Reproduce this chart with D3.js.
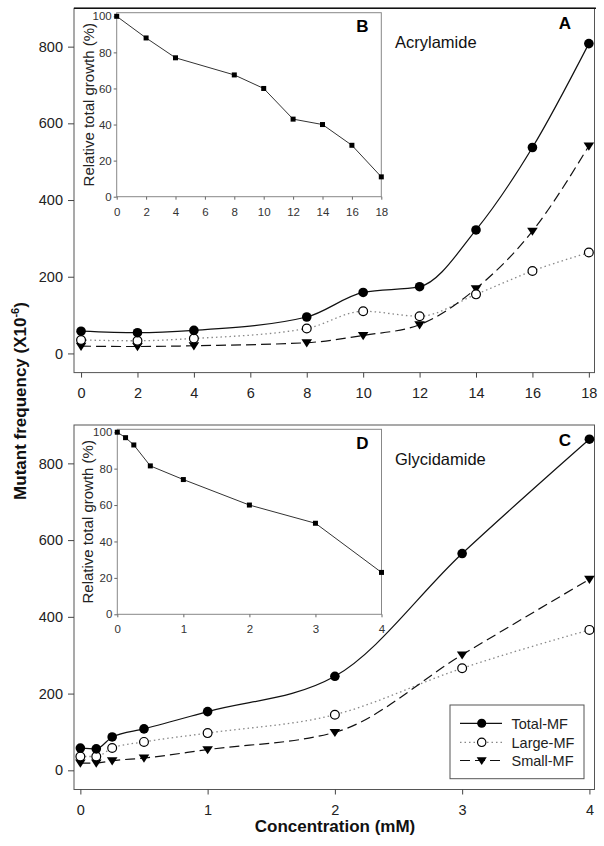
<!DOCTYPE html>
<html>
<head>
<meta charset="utf-8">
<script src="https://cdn.jsdelivr.net/npm/d3@7"></script>
<style>
  html, body { margin: 0; padding: 0; background: #fff; }
  svg { display: block; font-family: "Liberation Sans", Arial, sans-serif; }
</style>
</head>
<body>
<svg id="chart" width="604" height="846"></svg>
<script>
// ---------- Data ----------
const acrylConc   = [0, 2, 4, 8, 10, 12, 14, 16, 18];
const acrylTotal  = [58, 54, 60, 95, 159, 174, 322, 537, 808];
const acrylLarge  = [35, 33, 39, 65, 110, 97, 154, 215, 263];
const acrylSmall  = [19, 18, 20, 28, 47, 75, 169, 319, 541];
const acrylGrowth = [100, 88, 77, 67.5, 60, 43, 40, 28.5, 11];

const glyConc   = [0, 0.125, 0.25, 0.5, 1, 2, 3, 4];
const glyTotal  = [58, 56, 87, 108, 153, 245, 565, 863];
const glyLarge  = [36, 36, 58, 74, 97, 145, 266, 366];
const glySmall  = [19, 19, 25, 32, 54, 99, 301, 498];
const glyGrowth = [100, 97, 93, 81.5, 74, 60, 50, 23];

const mainYTicks   = [0, 200, 400, 600, 800];
const acrylXTicks  = [0, 2, 4, 6, 8, 10, 12, 14, 16, 18];
const glyXTicks    = [0, 1, 2, 3, 4];
const insetYTicks  = [0, 20, 40, 60, 80, 100];
const seriesNames  = ["Total-MF", "Large-MF", "Small-MF"];

// ---------- Setup ----------
const svg = d3.select("#chart");
const FONT = "Liberation Sans, Arial, sans-serif";
const fmt = d3.format("~g");

const styles = {
  "Total-MF": { stroke: "#111", dash: null, width: 1.2, marker: "filled" },
  "Large-MF": { stroke: "#888", dash: "1.5,3", width: 1.3, marker: "open" },
  "Small-MF": { stroke: "#111", dash: "10,5", width: 1.2, marker: "tri" }
};

function drawMarker(g, type, x, y, scale) {
  const s = scale || 1;
  if (type === "filled") {
    g.append("circle").attr("cx", x).attr("cy", y).attr("r", 4.8 * s).attr("fill", "#000");
  } else if (type === "open") {
    g.append("circle").attr("cx", x).attr("cy", y).attr("r", 4.4 * s)
      .attr("fill", "#fff").attr("stroke", "#000").attr("stroke-width", 1.2);
  } else {
    const w = 5.3 * s, h = 8.2 * s;
    g.append("path")
      .attr("d", `M${x - w},${y - h * 0.42}L${x + w},${y - h * 0.42}L${x},${y + h * 0.58}Z`)
      .attr("fill", "#000");
  }
}

function mainPanel(cfg) {
  const g = svg.append("g");
  const x = d3.scaleLinear().domain(cfg.xDomain).range([74, 594.5]);
  const y = d3.scaleLinear().domain([-50, 900]).range([cfg.bottom, cfg.top]);

  g.append("rect").attr("x", 74).attr("y", cfg.top).attr("width", 520.5)
    .attr("height", cfg.bottom - cfg.top).attr("fill", "#fff")
    .attr("stroke", "#555").attr("stroke-width", 1);
  if (cfg.darkTop) {
    g.append("line").attr("x1", 74).attr("x2", 596).attr("y1", cfg.top).attr("y2", cfg.top)
      .attr("stroke", "#111").attr("stroke-width", 1.6);
  }

  const yAx = g.append("g").attr("transform", "translate(74,0)")
    .call(d3.axisLeft(y).tickValues(mainYTicks).tickFormat(fmt).tickSize(6).tickPadding(5));
  yAx.select(".domain").remove();
  yAx.selectAll("line").attr("stroke", "#444");
  yAx.selectAll("text").attr("font-size", 14.5).attr("font-family", FONT).attr("fill", "#222");

  const xAx = g.append("g").attr("transform", `translate(0,${cfg.bottom})`)
    .call(d3.axisBottom(x).tickValues(cfg.xTicks).tickFormat(fmt).tickSize(5).tickPadding(10));
  xAx.select(".domain").remove();
  xAx.selectAll("line").attr("stroke", "#444");
  xAx.selectAll("text").attr("font-size", 14.5).attr("font-family", FONT).attr("fill", "#222");

  const sets = [cfg.total, cfg.large, cfg.small];
  sets.forEach((vals, i) => {
    const st = styles[seriesNames[i]];
    const line = d3.line().x((d, k) => x(cfg.conc[k])).y(d => y(d)).curve(d3.curveMonotoneX);
    g.append("path").attr("d", line(vals)).attr("fill", "none")
      .attr("stroke", st.stroke).attr("stroke-width", st.width)
      .attr("stroke-dasharray", st.dash);
  });
  [2, 1, 0].forEach(i => {
    const vals = sets[i];
    const st = styles[seriesNames[i]];
    cfg.conc.forEach((c, k) => drawMarker(g, st.marker, x(c), y(vals[k])));
  });

  g.append("text").attr("x", 565).attr("y", cfg.top + 20.5).attr("text-anchor", "middle")
    .attr("font-size", 17).attr("font-weight", "bold").attr("font-family", FONT).text(cfg.letter);
  g.append("text").attr("x", 395).attr("y", cfg.top + 39.5)
    .attr("font-size", 16.5).attr("font-family", FONT).attr("fill", "#111").text(cfg.name);
  return g;
}

function inset(cfg) {
  const g = svg.append("g");
  const x = d3.scaleLinear().domain(cfg.xDomain).range([cfg.left, cfg.right]);
  const y = d3.scaleLinear().domain([0, cfg.yMax]).range([cfg.bottom, cfg.top]);
  g.append("rect").attr("x", cfg.left).attr("y", cfg.top)
    .attr("width", cfg.right - cfg.left).attr("height", cfg.bottom - cfg.top)
    .attr("fill", "#fff").attr("stroke", "#888").attr("stroke-width", 1);

  const yAx = g.append("g").attr("transform", `translate(${cfg.left},0)`)
    .call(d3.axisLeft(y).tickValues(insetYTicks).tickFormat(fmt).tickSize(3).tickPadding(2));
  yAx.select(".domain").remove();
  yAx.selectAll("line").attr("stroke", "#666");
  yAx.selectAll("text").attr("font-size", 11.5).attr("font-family", FONT).attr("fill", "#333");

  const xAx = g.append("g").attr("transform", `translate(0,${cfg.bottom})`)
    .call(d3.axisBottom(x).tickValues(cfg.xTicks).tickFormat(fmt).tickSize(3).tickPadding(8));
  xAx.select(".domain").remove();
  xAx.selectAll("line").attr("stroke", "#666");
  xAx.selectAll("text").attr("font-size", 11.5).attr("font-family", FONT).attr("fill", "#333");

  const line = d3.line().x((d, i) => x(cfg.conc[i])).y(d => y(d));
  g.append("path").attr("d", line(cfg.growth)).attr("fill", "none")
    .attr("stroke", "#333").attr("stroke-width", 1);
  g.selectAll("rect.pt").data(cfg.growth).enter().append("rect").attr("class", "pt")
    .attr("x", (d, i) => x(cfg.conc[i]) - 2.5).attr("y", d => y(d) - 2.5)
    .attr("width", 5).attr("height", 5).attr("fill", "#000");

  const cy = (cfg.top + cfg.bottom) / 2;
  g.append("text").attr("transform", `translate(${cfg.titleX},${cy}) rotate(-90)`)
    .attr("text-anchor", "middle").attr("font-size", 15).attr("font-family", FONT)
    .attr("fill", "#222").text("Relative total growth (%)");

  g.append("text").attr("x", cfg.right - 19).attr("y", cfg.top + 19.5).attr("text-anchor", "middle")
    .attr("font-size", 17).attr("font-weight", "bold").attr("font-family", FONT).text(cfg.letter);
}

// ---------- Panels ----------
mainPanel({ top: 8.3, bottom: 372.6, xDomain: [-0.25, 18.2], xTicks: acrylXTicks,
  conc: acrylConc, total: acrylTotal, large: acrylLarge, small: acrylSmall,
  letter: "A", name: "Acrylamide", darkTop: true });
inset({ left: 116.7, right: 381.3, top: 12.7, bottom: 196.7, yMax: 102, xDomain: [0, 18],
  xTicks: acrylXTicks, conc: acrylConc, growth: acrylGrowth, letter: "B", titleX: 93.5 });

mainPanel({ top: 425, bottom: 789.5, xDomain: [-0.05, 4.04], xTicks: glyXTicks,
  conc: glyConc, total: glyTotal, large: glyLarge, small: glySmall,
  letter: "C", name: "Glycidamide", darkTop: false });
inset({ left: 117.3, right: 381.5, top: 429.3, bottom: 614.3, yMax: 101.6, xDomain: [0, 4],
  xTicks: glyXTicks, conc: glyConc, growth: glyGrowth, letter: "D", titleX: 92.5 });

// ---------- Legend ----------
const lg = svg.append("g");
lg.append("rect").attr("x", 450).attr("y", 705).attr("width", 134).attr("height", 73.7)
  .attr("fill", "#fff").attr("stroke", "#555").attr("stroke-width", 1);
const legendY = [723.3, 742.3, 760.5];
seriesNames.forEach((name, i) => {
  const st = styles[name];
  lg.append("line").attr("x1", 460).attr("x2", 502).attr("y1", legendY[i]).attr("y2", legendY[i])
    .attr("stroke", st.stroke).attr("stroke-width", st.width).attr("stroke-dasharray", st.dash);
  drawMarker(lg, st.marker, 481.7, legendY[i], 0.95);
  lg.append("text").attr("x", 511.5).attr("y", legendY[i] + 5.2)
    .attr("font-size", 14.5).attr("font-family", FONT).attr("fill", "#222").text(name);
});

// ---------- Axis titles ----------
const yt = svg.append("text").attr("transform", "translate(25.5,401) rotate(-90)")
  .attr("text-anchor", "middle").attr("font-size", 17).attr("font-weight", "bold")
  .attr("font-family", FONT).attr("fill", "#111");
yt.append("tspan").text("Mutant frequency (X10");
yt.append("tspan").attr("font-size", 11).attr("dy", -7).text("-6");
yt.append("tspan").attr("dy", 7).text(")");

svg.append("text").attr("x", 335).attr("y", 832).attr("text-anchor", "middle")
  .attr("font-size", 17).attr("font-weight", "bold").attr("font-family", FONT)
  .attr("fill", "#111").text("Concentration (mM)");
</script>
</body>
</html>
